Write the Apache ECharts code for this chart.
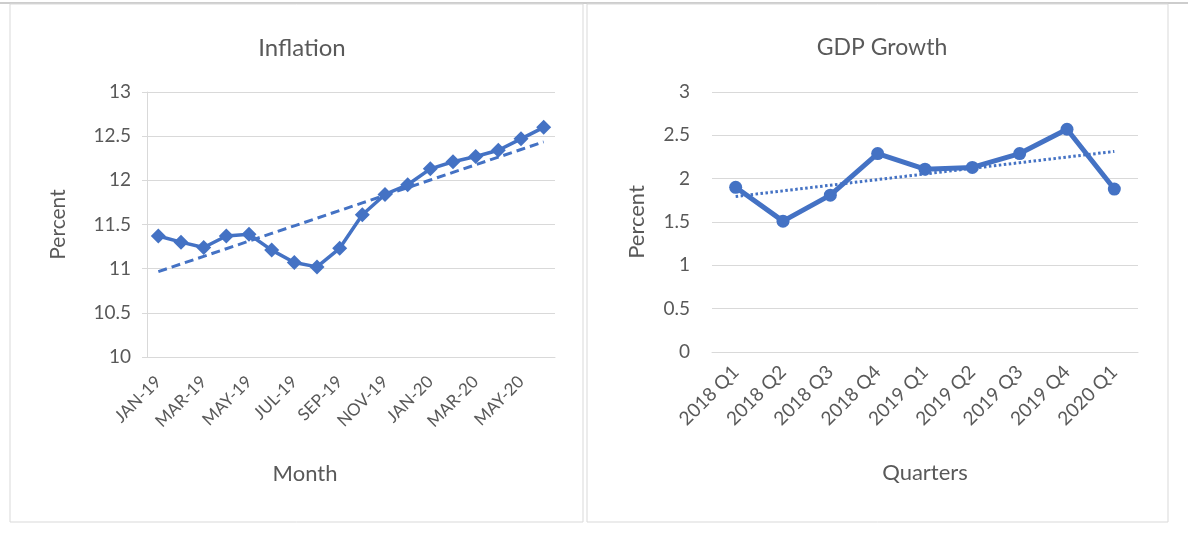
<!DOCTYPE html>
<html>
<head>
<meta charset="UTF-8">
<title>Inflation and GDP Growth</title>
<script src="https://cdn.jsdelivr.net/npm/echarts@6/dist/echarts.min.js"></script>
<style>
  html, body { margin: 0; padding: 0; background: #fff; }
  #main { width: 1188px; height: 544px; }
</style>
</head>
<body>
<div id="main"></div>
<script>
// inflation, monthly
var months = ['JAN-19','FEB-19','MAR-19','APR-19','MAY-19','JUN-19','JUL-19','AUG-19','SEP-19',
              'OCT-19','NOV-19','DEC-19','JAN-20','FEB-20','MAR-20','APR-20','MAY-20','JUN-20'];
var inflation = [11.37, 11.30, 11.24, 11.37, 11.39, 11.21, 11.07, 11.02, 11.23,
                 11.61, 11.84, 11.95, 12.13, 12.21, 12.27, 12.34, 12.47, 12.60];

// gdp growth, quarterly
var quarters = ['2018 Q1','2018 Q2','2018 Q3','2018 Q4','2019 Q1','2019 Q2','2019 Q3','2019 Q4','2020 Q1'];
var gdpGrowth = [1.90, 1.51, 1.81, 2.29, 2.11, 2.13, 2.29, 2.57, 1.88];

var blue = '#4472C4';
var grey = '#595959';
var font = 'Lato, "Noto Sans", sans-serif';

// least squares trend, like excel's linear trendline
function trend(vals) {
  var n = vals.length, sx = 0, sy = 0, sxy = 0, sxx = 0;
  vals.forEach(function (v, i) { sx += i; sy += v; sxy += i * v; sxx += i * i; });
  var b = (n * sxy - sx * sy) / (n * sxx - sx * sx);
  var a = (sy - b * sx) / n;
  return vals.map(function (v, i) { return +(a + b * i).toFixed(4); });
}

var chart = echarts.init(document.getElementById('main'), null, { renderer: 'canvas' });

var option = {
  animation: false,
  textStyle: { fontFamily: font, color: grey },
  graphic: [
    { type: 'line', shape: { x1: 0, y1: 3, x2: 1188, y2: 3 }, style: { stroke: '#bdbdbd', lineWidth: 1.5 } },
    { type: 'rect', shape: { x: 10, y: 4, width: 573, height: 518 }, style: { fill: 'none', stroke: '#d9d9d9', lineWidth: 1 } },
    { type: 'rect', shape: { x: 587, y: 4, width: 581, height: 518 }, style: { fill: 'none', stroke: '#d9d9d9', lineWidth: 1 } }
  ],
  title: [
    { text: 'Inflation', left: 297, top: 31, textAlign: 'center',
      textStyle: { fontSize: 24, fontWeight: 'normal', color: grey, fontFamily: font } },
    { text: 'GDP Growth', left: 877, top: 31, textAlign: 'center',
      textStyle: { fontSize: 23, fontWeight: 'normal', color: grey, fontFamily: font } }
  ],
  grid: [
    { left: 147, top: 92, width: 408, height: 265 },
    { left: 712, top: 92, width: 426, height: 260 }
  ],
  xAxis: [
    {
      gridIndex: 0, type: 'category', data: months, boundaryGap: true,
      name: 'Month', nameLocation: 'middle', nameGap: 106,
      nameTextStyle: { fontSize: 22, color: grey, padding: [0, 92, 0, 0] },
      axisLine: { lineStyle: { color: '#d9d9d9' } },
      axisTick: { show: false },
      axisLabel: { interval: 1, rotate: 45, fontSize: 17, color: grey, margin: 22 }
    },
    {
      gridIndex: 1, type: 'category', data: quarters, boundaryGap: true,
      name: 'Quarters', nameLocation: 'middle', nameGap: 110,
      nameTextStyle: { fontSize: 22, color: grey },
      axisLine: { lineStyle: { color: '#d9d9d9' } },
      axisTick: { show: false },
      axisLabel: { interval: 0, rotate: 45, fontSize: 19, color: grey, margin: 17 }
    }
  ],
  yAxis: [
    {
      gridIndex: 0, type: 'value', min: 10, max: 13, interval: 0.5,
      name: 'Percent', nameLocation: 'middle', nameGap: 78,
      nameTextStyle: { fontSize: 21, color: grey },
      axisLine: { show: true, lineStyle: { color: '#d9d9d9' } },
      axisTick: { show: true, length: 5, lineStyle: { color: '#d9d9d9' } },
      axisLabel: { fontSize: 19, color: grey, margin: 16 },
      splitLine: { lineStyle: { color: '#d9d9d9' } }
    },
    {
      gridIndex: 1, type: 'value', min: 0, max: 3, interval: 0.5,
      name: 'Percent', nameLocation: 'middle', nameGap: 64,
      nameTextStyle: { fontSize: 22, color: grey },
      axisLine: { show: false },
      axisTick: { show: false },
      axisLabel: { fontSize: 19, color: grey, margin: 22 },
      splitLine: { lineStyle: { color: '#d9d9d9' } }
    }
  ],
  series: [
    {
      name: 'Inflation trend', type: 'line', xAxisIndex: 0, yAxisIndex: 0,
      data: trend(inflation), showSymbol: false, silent: true, z: 1,
      lineStyle: { color: blue, width: 3, type: [9, 5] }
    },
    {
      name: 'Inflation', type: 'line', xAxisIndex: 0, yAxisIndex: 0,
      data: inflation, symbol: 'diamond', symbolSize: 15, z: 2,
      itemStyle: { color: blue }, lineStyle: { color: blue, width: 3.5 }
    },
    {
      name: 'GDP trend', type: 'line', xAxisIndex: 1, yAxisIndex: 1,
      data: trend(gdpGrowth), showSymbol: false, silent: true, z: 1,
      lineStyle: { color: blue, width: 3, type: [2.5, 2.5] }
    },
    {
      name: 'GDP Growth', type: 'line', xAxisIndex: 1, yAxisIndex: 1,
      data: gdpGrowth, symbol: 'circle', symbolSize: 13, z: 2,
      itemStyle: { color: blue }, lineStyle: { color: blue, width: 5 }
    }
  ]
};

chart.setOption(option);
</script>
</body>
</html>
